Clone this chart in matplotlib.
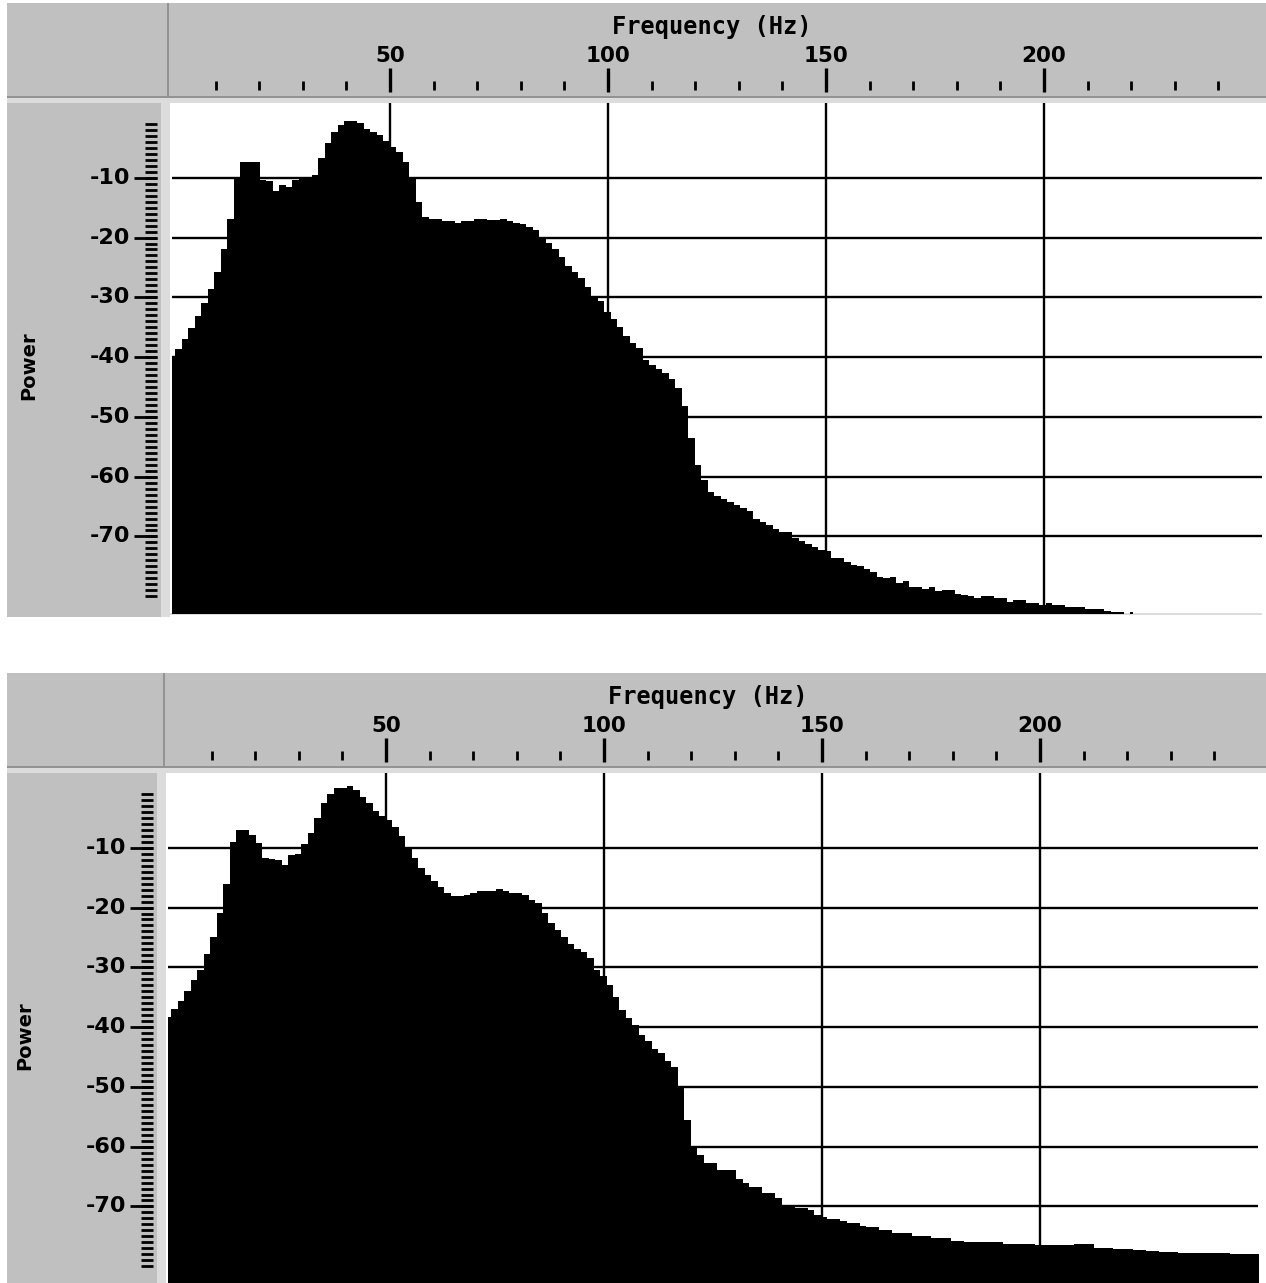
import numpy as np
import matplotlib
matplotlib.use("Agg")
import matplotlib.pyplot as plt
from matplotlib.patches import Rectangle

# --- data (dB per frequency bin) ---
BIN_HZ = 1.49

top_power = [
    -40.1, -38.6, -36.9, -35.1, -33.1, -30.9, -28.6, -25.8, -21.9, -16.9,
    -9.8, -7.4, -7.4, -7.4, -10.3, -10.5, -12.3, -11.2, -11.5, -10.3,
    -10.2, -10.2, -9.5, -6.7, -4.2, -2.3, -1.1, -0.5, -0.5, -0.9,
    -1.9, -2.3, -2.8, -3.9, -4.8, -5.7, -7.4, -10.1, -14.1, -16.6,
    -16.9, -16.9, -17.2, -17.3, -17.6, -17.3, -17.3, -16.9, -16.9, -17.0,
    -17.0, -16.9, -17.2, -17.5, -17.7, -18.2, -18.7, -20.1, -20.9, -22.0,
    -23.2, -24.7, -25.8, -26.8, -28.2, -30.0, -30.7, -32.4, -33.6, -35.0,
    -36.5, -37.6, -38.5, -40.5, -41.3, -42.0, -42.7, -43.7, -45.2, -48.1,
    -53.6, -58.1, -60.5, -62.5, -63.2, -63.8, -64.3, -64.7, -65.2, -65.7,
    -67.1, -67.6, -68.0, -68.7, -69.3, -69.3, -70.3, -70.8, -71.2, -71.8,
    -72.2, -72.5, -73.6, -73.6, -74.3, -74.7, -75.0, -75.4, -75.9, -76.8,
    -77.0, -76.8, -77.8, -77.5, -78.5, -78.5, -78.8, -78.5, -79.2, -78.9,
    -79.0, -79.6, -79.8, -80.0, -80.3, -80.0, -80.0, -80.3, -80.3, -81.0,
    -80.7, -80.7, -81.2, -81.2, -81.4, -81.1, -81.4, -81.4, -81.8, -81.8,
    -81.8, -82.2, -82.2, -82.2, -82.5, -82.6, -82.6, -83.5, -82.6,
]

bottom_power = [
    -38.3, -37.0, -35.6, -34.0, -32.1, -30.4, -27.8, -25.0, -20.9, -16.1,
    -9.0, -7.1, -7.1, -7.8, -9.2, -11.7, -11.9, -12.0, -12.9, -11.2,
    -11.0, -9.4, -7.5, -5.0, -2.6, -1.0, 0.0, 0.0, 0.3, -0.4,
    -1.5, -2.6, -3.8, -4.7, -5.4, -6.5, -8.0, -10.0, -11.7, -13.4,
    -14.6, -15.6, -16.6, -17.5, -18.1, -18.1, -17.9, -17.5, -17.3, -17.3,
    -17.3, -16.9, -17.3, -17.5, -17.5, -17.9, -18.7, -19.2, -20.9, -22.6,
    -23.7, -25.0, -26.1, -27.0, -27.5, -28.4, -30.4, -31.5, -33.0, -35.0,
    -37.1, -38.5, -39.6, -41.3, -42.3, -43.6, -44.3, -45.6, -46.6, -50.2,
    -55.5, -60.0, -61.4, -62.8, -62.8, -63.9, -63.9, -63.9, -65.4, -66.0,
    -66.7, -66.7, -67.8, -67.8, -68.5, -69.8, -69.8, -70.2, -70.2, -70.6,
    -71.4, -71.7, -72.1, -72.1, -72.5, -72.8, -72.8, -73.2, -73.5, -73.5,
    -73.9, -73.9, -74.5, -74.5, -74.5, -74.9, -74.9, -74.9, -75.2, -75.3,
    -75.3, -75.8, -75.8, -75.9, -75.9, -75.9, -75.9, -76.0, -75.9, -76.2,
    -76.2, -76.3, -76.3, -76.3, -76.4, -76.4, -76.4, -76.4, -76.4, -76.5,
    -76.3, -76.3, -76.3, -77.0, -77.0, -77.0, -77.1, -77.1, -77.1, -77.3,
    -77.3, -77.5, -77.5, -77.6, -77.6, -77.6, -77.7, -77.7, -77.7, -77.7,
    -77.7, -77.7, -77.7, -77.7, -78.0, -78.0, -78.0, -78.0, -78.0,
]

x_major = [50, 100, 150, 200]
x_minor = [10, 20, 30, 40, 60, 70, 80, 90, 110, 120, 130, 140,
           160, 170, 180, 190, 210, 220, 230, 240]
y_major = [-10, -20, -30, -40, -50, -60, -70]
y_minor = list(range(-80, 0))

XLIM = (0, 250)
YLIM = (-82.8, 2.5)

W, H = 1266, 1283
GREY = "#c0c0c0"
LIGHT = "#dcdcdc"
DARK = "#939393"

plt.rcParams["font.family"] = ["DejaVu Sans"]
fig = plt.figure(figsize=(W / 100, H / 100), dpi=100)


def rect(x0, y0, x1, y1, color):
    # rectangle in pixel coords (origin top-left)
    fig.patches.append(Rectangle((x0 / W, 1 - y1 / H), (x1 - x0) / W, (y1 - y0) / H,
                                 transform=fig.transFigure, facecolor=color,
                                 edgecolor="none", zorder=-5))


def draw_panel(plot_left, plot_top, power):
    dx = plot_left - 172
    dy = plot_top - 103

    # grey frame around the plot
    rect(7, 3 + dy, 1266, 97 + dy, GREY)
    rect(7, 96 + dy, 1266, 98 + dy, DARK)
    rect(7, 98 + dy, 1266, 103 + dy, LIGHT)
    rect(7, 103 + dy, 161 + dx, 617 + dy, GREY)
    rect(161 + dx, 98 + dy, 170 + dx, 617 + dy, LIGHT)
    rect(167 + dx, 3 + dy, 169 + dx, 97 + dy, DARK)
    rect(170 + dx, 613 + dy, 1262 + dx, 615 + dy, LIGHT)

    # main spectrum axes
    ax = fig.add_axes([plot_left / W, 1 - (plot_top + 510) / H, 1090 / W, 510 / H])
    ax.set_facecolor("white")
    freqs = np.arange(len(power)) * BIN_HZ
    ax.fill_between(freqs, power, -100, step="mid", color="black", lw=0, zorder=3)
    for f in x_major:
        ax.axvline(f, color="black", lw=1.7, zorder=2)
    for p in y_major:
        ax.axhline(p, color="black", lw=1.7, zorder=2)
    ax.set_xlim(*XLIM)
    ax.set_ylim(*YLIM)
    ax.set_xticks([])
    ax.set_yticks([])
    for s in ax.spines.values():
        s.set_visible(False)

    # frequency header (y in pixels of the top panel)
    axh = fig.add_axes([plot_left / W, 1 - (97 + dy) / H, 1090 / W, 94 / H])
    axh.set_xlim(*XLIM)
    axh.set_ylim(97, 3)
    axh.axis("off")
    axh.vlines(x_major, 68, 92, color="black", lw=2.4)
    axh.vlines(x_minor, 81, 90, color="black", lw=2.0)
    for f in x_major:
        axh.text(f, 56, str(f), ha="center", va="center",
                 fontsize=15.5, fontweight="bold")
    axh.text(0.495, 27, "Frequency (Hz)", transform=axh.get_yaxis_transform(),
             ha="center", va="center", fontsize=17, fontweight="bold",
             family="DejaVu Sans Mono")

    # power ruler on the left (x in pixels)
    axl = fig.add_axes([dx / W, 1 - (plot_top + 510) / H, 172 / W, 510 / H])
    axl.set_xlim(0, 172)
    axl.set_ylim(*YLIM)
    axl.axis("off")
    axl.hlines(y_minor, 145, 157, color="black", lw=2.0)
    axl.hlines(y_major, 134, 157, color="black", lw=2.0)
    for p in y_major:
        axl.text(130, p, str(p), ha="right", va="center",
                 fontsize=16, fontweight="bold")
    axl.text(29, 0.485, "Power", transform=axl.get_xaxis_transform(),
             rotation=90, ha="center", va="center", fontsize=14, fontweight="bold")


draw_panel(172, 103, top_power)
draw_panel(168, 773, bottom_power)

fig.savefig("out.png", dpi=100, facecolor="white")
